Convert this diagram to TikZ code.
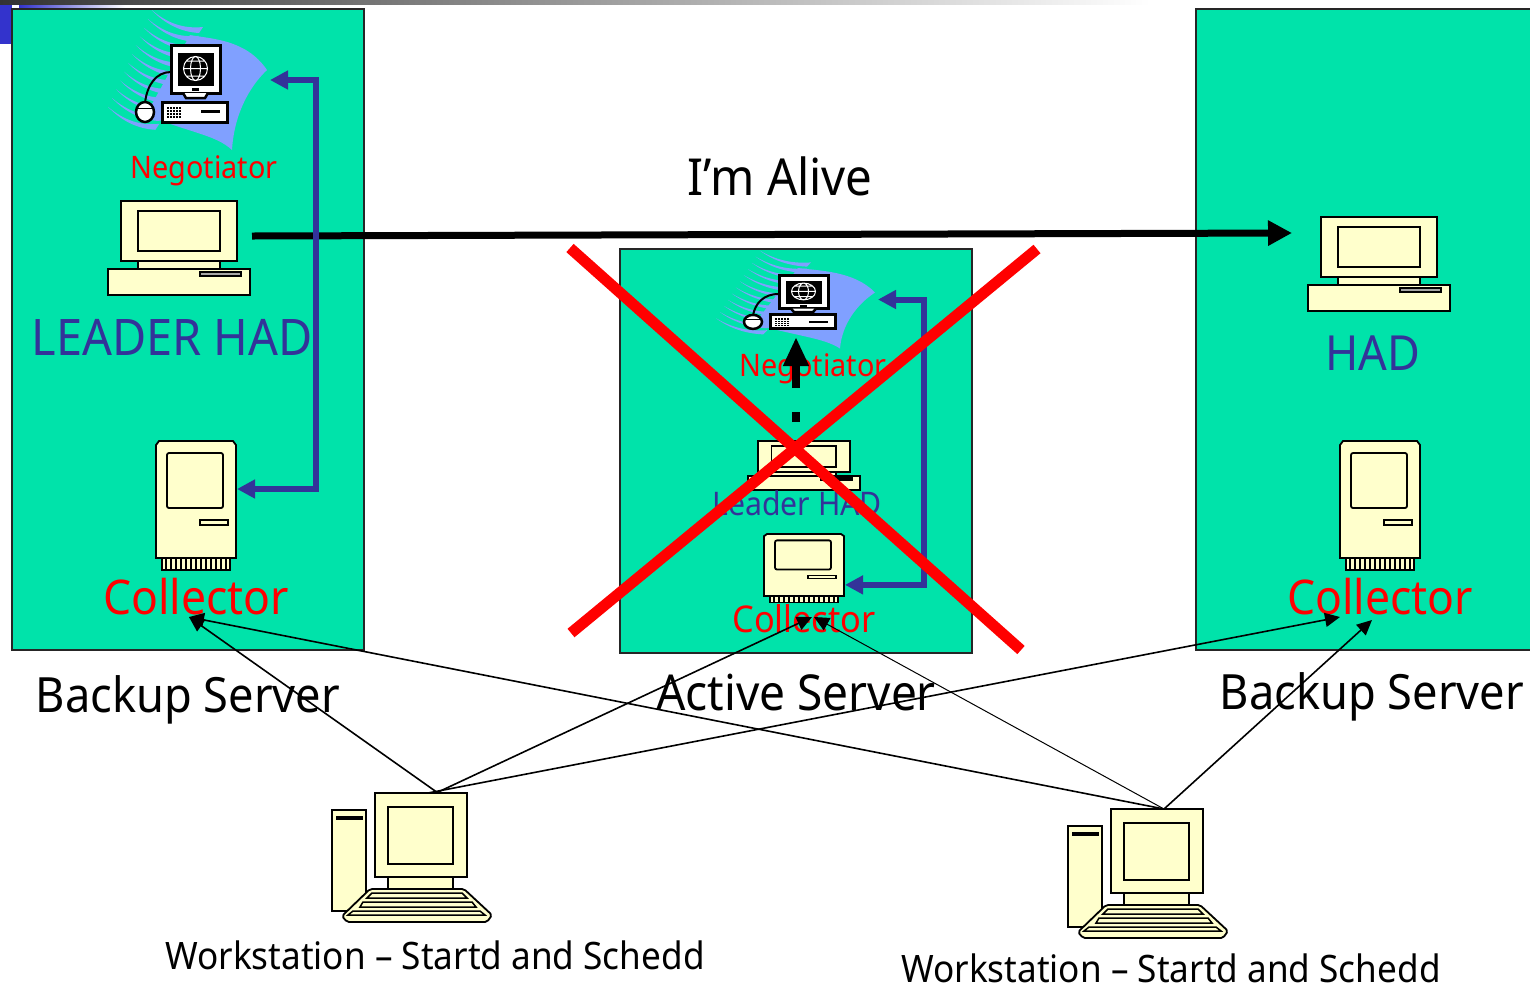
\documentclass[tikz,border=0pt]{standalone}
\usepackage{xcolor}
\usepackage{fontspec}
\setmainfont[FakeStretch=0.93]{Noto Sans}
\usetikzlibrary{arrows.meta,positioning,calc}
\definecolor{serverteal}{RGB}{0,227,170}
\definecolor{iconcream}{RGB}{255,255,204}
\definecolor{hadblue}{RGB}{51,51,153}
\definecolor{swooshblue}{RGB}{128,160,255}
\definecolor{cornerblue}{RGB}{51,51,204}
\tikzset{
	serverbox/.style={draw=black!85, line width=1.8pt, fill=serverteal, anchor=north west, inner sep=0pt, outer sep=0pt, minimum width=352pt},
	iconpart/.style={draw=black, line width=1.8pt, fill=iconcream},
	labeltext/.style={font=\fontsize{#1}{#1}\selectfont, inner sep=0pt},
	wire/.style={draw=black, line width=1.6pt, -{Triangle[length=15pt,width=14pt]}},
	hadlink/.style={draw=hadblue, line width=6pt, {Triangle[length=18pt,width=18pt]}-{Triangle[length=18pt,width=18pt]}},
	strike/.style={draw=red, line width=11pt},
	deskicon/.pic={
		\draw[iconpart] (0,0) rectangle (116,60);
		\draw[iconpart] (17,10) rectangle (99,50);
		\draw[iconpart] (17,60) rectangle (99,68);
		\draw[iconpart] (-13,68) rectangle (129,94);
		\draw[draw=black, line width=1.2pt, fill=black!35] (79,71) rectangle (120,75);
		\coordinate (-east) at (129,34);
		\coordinate (-north) at (58,0);
	},
	macicon/.pic={
		\draw[iconpart] (3,0) -- (77,0) -- (80,4) -- (80,117) -- (0,117) -- (0,4) -- cycle;
		\draw[iconpart, rounded corners=2pt] (11,12) rectangle (67,67);
		\draw[iconpart, line width=1.2pt] (44,79) rectangle (72,84);
		\draw[iconpart, line width=1.2pt] (6,117) rectangle (74,129);
		\foreach \tooth in {10,15,...,70}
			\draw[black, line width=1.6pt] (\tooth,117) -- (\tooth,129);
		\coordinate (-east) at (81,48);
		\coordinate (-port) at (81,96);
	},
	neticon/.pic={
		\fill[swooshblue] (19,-10) .. controls (40,-6) and (75,-6) .. (96,25)
			.. controls (78,42) and (63,70) .. (61,105)
			.. controls (45,90) and (20,88) .. (-25,70) -- cycle;
		\foreach \feather in {0,...,11}
			\fill[swooshblue] ({-19.3-3.97*\feather},{-35+8.8*\feather})
				.. controls ({-4-3.97*\feather},{-22+8.8*\feather}) and ({12-3.97*\feather},{-16+8.8*\feather}) .. ({32-3.97*\feather},{-18+8.8*\feather})
				-- ({28-3.97*\feather},{-12+8.8*\feather})
				.. controls ({10-3.97*\feather},{-13+8.8*\feather}) and ({-6-3.97*\feather},{-21+8.8*\feather}) .. cycle;
		\draw[black, line width=3pt, fill=white] (0,0) rectangle (49,48);
		\draw[black, line width=2.5pt, fill=white] (12,48) -- (15,53) -- (34,53) -- (37,48);
		\fill[black] (7,8) rectangle (43,41);
		\draw[white, line width=1pt] (24.5,23.5) ellipse (12 and 12) (24.5,23.5) ellipse (5 and 12)
			(12.5,23.5) -- (36.5,23.5) (15,16) -- (34,16) (15,31) -- (34,31);
		\fill[black] (21,43) rectangle (28,46);
		\draw[black, line width=3pt, fill=white] (-9,57) rectangle (56,77);
		\foreach \row in {62,65,...,71}
			\foreach \col in {-4,-1,...,8}
				\fill[black] (\col,\row) rectangle ++(1.6,1.6);
		\fill[black] (30,65) rectangle (49,68);
		\draw[black, line width=2pt] (0,27) .. controls (-15,27) and (-24,40) .. (-26,58);
		\draw[black, line width=2.5pt, fill=white] (-26,67) ellipse (9 and 10);
		\draw[black, line width=1pt] (-35,63) -- (-17,63);
		\coordinate (-east) at (99,35);
	},
	towericon/.pic={
		\draw[iconpart] (-43,17) rectangle (-9,118);
		\fill[black] (-39,23) rectangle (-12,27);
		\draw[iconpart] (0,0) rectangle (92,84);
		\draw[iconpart] (13,14) rectangle (78,71);
		\draw[iconpart] (13,84) rectangle (78,96);
		\draw[iconpart, rounded corners=2pt] (-5,96) -- (89,96) -- (117,122) -- (112,129) -- (-28,129) -- (-33,123) -- cycle;
		\draw[iconpart, line width=1.5pt] (-3,100) -- (87,100) -- (92,105) -- (-8,105) -- cycle;
		\draw[iconpart, line width=1.5pt] (-12,109) -- (97,109) -- (101,114) -- (-15,114) -- cycle;
		\draw[iconpart, line width=1.5pt] (-22,118) -- (105,118) -- (110,122) -- (-27,122) -- cycle;
		\coordinate (-top) at (55,0);
	}
}
\begin{document}
\begin{tikzpicture}[x=1pt, y=-1pt]
	\useasboundingbox (0,0) rectangle (1530,986);
	\shade[left color=black!80, right color=white] (0,0) rectangle (1150,4);
	\shade[left color=cornerblue, right color=white] (19,5) rectangle (125,8);
	\fill[cornerblue] (0,5) rectangle (12,44);

	\node[serverbox, minimum height=641pt] (backupleft) at (12,9) {};
	\node[serverbox, minimum height=404pt] (active) at (620,249) {};
	\node[serverbox, minimum height=641pt] (backupright) at (1196,9) {};

	\pic (negleft) at (171,45) {neticon};
	\pic (hadleft) at (121,201) {deskicon};
	\pic (colleft) at (156,441) {macicon};
	\pic[xscale=1, yscale=.7] (negmid) at (779,275) {neticon};
	\pic[xscale=.79, yscale=.52] (hadmid) at (758,441) {deskicon};
	\pic[yscale=.53] (colmid) at (764,534) {macicon};
	\pic (hadright) at (1321,217) {deskicon};
	\pic (colright) at (1340,441) {macicon};
	\pic (wsleft) at (375,793) {towericon};
	\pic (wsright) at (1111,809) {towericon};

	\node[labeltext=31, red] (negleftlabel) at (204,171) {Negotiator};
	\node[labeltext=50.4, hadblue] (leaderlabel) at (172,337) {LEADER HAD};
	\node[labeltext=47.8, red] (colleftlabel) at (196,597) {Collector};
	\node[labeltext=31, red] (negmidlabel) at (813,369) {Negotiator};
	\node[labeltext=32.5, hadblue] (leadermidlabel) at (797,503) {Leader HAD};
	\node[labeltext=36.9, red] (colmidlabel) at (804,619) {Collector};
	\node[labeltext=48.4, hadblue] (hadlabel) at (1373,353) {HAD};
	\node[labeltext=47.8, red] (colrightlabel) at (1380,597) {Collector};
	\node[labeltext=51] (alivelabel) at (780,176) {I’m Alive};
	\node[labeltext=48.6] (backupleftlabel) at (188,700) {Backup Server};
	\node[labeltext=49.5] (activelabel) at (796,692) {Active Server};
	\node[labeltext=48.6] (backuprightlabel) at (1372,697) {Backup Server};
	\node[labeltext=37.8] (wsleftlabel) at (435,955) {Workstation – Startd and Schedd};
	\node[labeltext=37.8] (wsrightlabel) at (1171,968) {Workstation – Startd and Schedd};

	\coordinate (alivefrom) at (252,236);
	\coordinate (aliveto) at (1292,233);
	\coordinate (hoptop) at (796,337);
	\coordinate (hopbase) at (796,422);
	\coordinate (hitleft) at (189,617);
	\coordinate (hitmid) at (812,617);
	\coordinate (hitmidb) at (814,617);
	\coordinate (hitright) at (1340,617);
	\coordinate (hitrightb) at (1372,620);
	\coordinate (strikea) at (570,248);
	\coordinate (strikeb) at (1021,650);
	\coordinate (strikec) at (1037,249);
	\coordinate (striked) at (571,633);

	\draw[black, line width=7pt, -{Triangle[length=24pt,width=24pt]}] (alivefrom) -- (aliveto);
	\draw[hadlink] (colleft-east) -- ++(79,0) |- (negleft-east);
	\draw[hadlink] (colmid-port) -- ++(79,0) |- (negmid-east);
	\draw[black, line width=8pt, dash pattern=on 10pt off 24pt on 60pt, -{Triangle[length=29pt,width=24pt]}] (hopbase) -- (hoptop);
	\draw[strike] (strikea) -- (strikeb);
	\draw[strike] (strikec) -- (striked);

	\draw[wire] (wsleft-top) ++(8,0) -- (hitleft);
	\draw[wire] (wsleft-top) ++(6,0) -- (hitmid);
	\draw[wire] (wsleft-top) ++(-2,0) -- (hitright);
	\draw[wire] (wsright-top) ++(-2,0) -- (hitleft);
	\draw[wire, line width=1pt] (wsright-top) ++(-2,0) -- (hitmidb);
	\draw[wire] (wsright-top) ++(-2,0) -- (hitrightb);
\end{tikzpicture}
\end{document}
